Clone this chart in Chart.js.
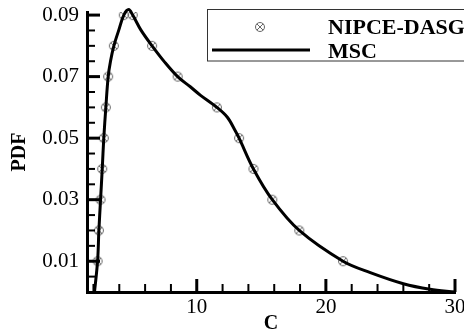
<!DOCTYPE html>
<html>
<head>
<meta charset="utf-8">
<script src="https://cdn.jsdelivr.net/npm/chart.js@4"></script>
<style>
  html, body { margin: 0; padding: 0; background: #fff; }
</style>
</head>
<body>
<canvas id="pdfChart" width="464" height="335"></canvas>
<script>
// MSC reference curve
const mscC = [2.08, 2.32, 2.42, 2.55, 2.68, 2.80, 2.96, 3.14, 3.32, 3.58, 3.96, 4.35, 4.73, 5.04, 5.68, 6.54, 7.5, 8.52, 9.5, 10.27, 11.56, 12.37, 12.97, 13.28, 14.39, 15.85, 17.94, 21.33, 23.44, 26.0, 28.07, 30.0];
const mscPdf = [0.0, 0.01, 0.02, 0.03, 0.04, 0.05, 0.06, 0.07, 0.075, 0.08, 0.0851, 0.09, 0.0918, 0.09, 0.0851, 0.08, 0.0748, 0.07, 0.0667, 0.064, 0.06, 0.0568, 0.0525, 0.05, 0.04, 0.03, 0.02, 0.01, 0.0063, 0.0027, 0.0009, 0.0];

// NIPCE-DASG samples
const nipceC = [2.32, 2.42, 2.55, 2.68, 2.80, 2.96, 3.14, 3.58, 4.35, 5.04, 6.54, 8.52, 11.56, 13.28, 14.39, 15.85, 17.94, 21.33];
const nipcePdf = [0.01, 0.02, 0.03, 0.04, 0.05, 0.06, 0.07, 0.08, 0.09, 0.09, 0.08, 0.07, 0.06, 0.05, 0.04, 0.03, 0.02, 0.01];

// axis ticks (all tick marks, and the ones that get a label)
const xTickValues = [2, 4, 6, 8, 10, 12, 14, 16, 18, 20, 22, 24, 26, 28, 30];
const xLabelValues = [10, 20, 30];
const yTickValues = [0.005, 0.01, 0.015, 0.02, 0.025, 0.03, 0.035, 0.04, 0.045, 0.05, 0.055, 0.06, 0.065, 0.07, 0.075, 0.08, 0.085, 0.09];
const yLabelValues = [0.01, 0.03, 0.05, 0.07, 0.09];

const SERIF = "'Liberation Serif', 'Times New Roman', serif";

// circle with an x through it
function makeMarker(r, color) {
  const c = document.createElement("canvas");
  const s = Math.ceil(r * 2 + 3);
  c.width = s;
  c.height = s;
  const g = c.getContext("2d");
  const m = s / 2;
  const d = r * Math.SQRT1_2;
  g.strokeStyle = color;
  g.lineWidth = 1;
  g.beginPath();
  g.arc(m, m, r, 0, Math.PI * 2);
  g.stroke();
  g.beginPath();
  g.moveTo(m - d, m - d); g.lineTo(m + d, m + d);
  g.moveTo(m + d, m - d); g.lineTo(m - d, m + d);
  g.stroke();
  return c;
}
const marker = makeMarker(4.5, "#666");

// tick marks pointing into the plot
const innerTicks = {
  id: "innerTicks",
  afterDatasetsDraw(chart) {
    const { ctx, chartArea, scales: { x, y } } = chart;
    ctx.save();
    ctx.strokeStyle = "#000";
    xTickValues.forEach(v => {
      const px = x.getPixelForValue(v);
      const major = xLabelValues.includes(v);
      ctx.lineWidth = major ? 3 : 2;
      ctx.beginPath();
      ctx.moveTo(px, chartArea.bottom);
      ctx.lineTo(px, chartArea.bottom - (major ? 13 : 8));
      ctx.stroke();
    });
    yTickValues.forEach(v => {
      const py = y.getPixelForValue(v);
      const major = yLabelValues.includes(v);
      ctx.lineWidth = major ? 3 : 2;
      ctx.beginPath();
      ctx.moveTo(chartArea.left, py);
      ctx.lineTo(chartArea.left + (major ? 13 : 8), py);
      ctx.stroke();
    });
    ctx.restore();
  }
};

// boxed legend in the upper right
const boxLegend = {
  id: "boxLegend",
  afterDraw(chart) {
    const ctx = chart.ctx;
    const sets = chart.data.datasets;
    ctx.save();
    ctx.strokeStyle = "#333";
    ctx.lineWidth = 1;
    ctx.strokeRect(207.5, 9.5, 300, 51.5);
    ctx.drawImage(marker, 260 - marker.width / 2, 27 - marker.height / 2);
    ctx.strokeStyle = "#000";
    ctx.lineWidth = 3;
    ctx.beginPath();
    ctx.moveTo(212, 50);
    ctx.lineTo(310, 50);
    ctx.stroke();
    ctx.fillStyle = "#000";
    ctx.font = "bold 22px " + SERIF;
    ctx.textBaseline = "alphabetic";
    ctx.fillText(sets[1].label, 328, 34);
    ctx.fillText(sets[0].label, 328, 58);
    ctx.restore();
  }
};

function drawChart() {
  new Chart(document.getElementById("pdfChart"), {
    type: "line",
    data: {
      datasets: [
        {
          label: "MSC",
          data: mscC.map((c, i) => ({ x: c, y: mscPdf[i] })),
          borderColor: "#000",
          borderWidth: 3,
          pointRadius: 0,
          tension: 0.35,
          clip: false
        },
        {
          label: "NIPCE-DASG",
          data: nipceC.map((c, i) => ({ x: c, y: nipcePdf[i] })),
          showLine: false,
          pointStyle: marker,
          pointRadius: 5
        }
      ]
    },
    options: {
      responsive: false,
      animation: false,
      layout: { padding: { left: 0, top: 12, right: 9, bottom: 0 } },
      plugins: {
        legend: { display: false },
        tooltip: { enabled: false }
      },
      scales: {
        x: {
          type: "linear",
          min: 1.5,
          max: 30,
          grid: { display: false },
          border: { display: true, width: 3, color: "#000" },
          afterBuildTicks: scale => { scale.ticks = xTickValues.map(v => ({ value: v })); },
          afterFit: scale => { scale.height = 43; scale.paddingLeft = 0; scale.paddingRight = 0; },
          ticks: {
            autoSkip: false,
            maxRotation: 0,
            padding: -5,
            color: "#000",
            font: { family: SERIF, size: 21 },
            callback: v => (xLabelValues.includes(v) ? String(v) : "")
          },
          title: {
            display: true,
            text: "C",
            color: "#000",
            padding: { top: 0, bottom: -1 },
            font: { family: SERIF, size: 20, weight: "bold" }
          }
        },
        y: {
          type: "linear",
          min: 0,
          max: 0.091,
          grid: { display: false },
          border: { display: true, width: 3, color: "#000" },
          afterBuildTicks: scale => { scale.ticks = yTickValues.map(v => ({ value: v })); },
          afterFit: scale => { scale.width = 87; scale.paddingTop = 0; scale.paddingBottom = 0; },
          ticks: {
            autoSkip: false,
            padding: 0,
            color: "#000",
            font: { family: SERIF, size: 21 },
            callback: v => (yLabelValues.includes(v) ? v.toFixed(2) : "")
          },
          title: {
            display: true,
            text: "PDF",
            color: "#000",
            padding: { top: 8, bottom: 0 },
            font: { family: SERIF, size: 20, weight: "bold" }
          }
        }
      }
    },
    plugins: [innerTicks, boxLegend]
  });
}

Promise.all([
  document.fonts.load("21px 'Liberation Serif'"),
  document.fonts.load("bold 22px 'Liberation Serif'")
]).then(drawChart, drawChart);
</script>
</body>
</html>
